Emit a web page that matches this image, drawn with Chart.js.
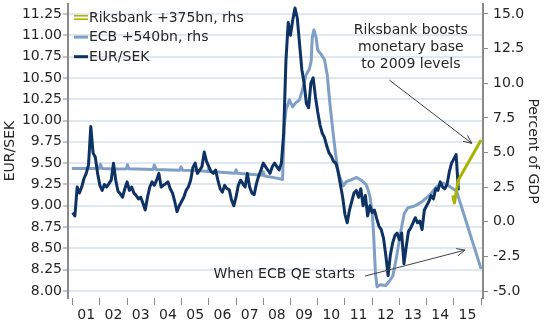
<!DOCTYPE html>
<html>
<head>
<meta charset="utf-8">
<script src="https://cdn.jsdelivr.net/npm/chart.js@4"></script>
<style>
  html, body { margin: 0; padding: 0; background: #fff; }
</style>
</head>
<body>
<canvas id="c" width="547" height="324"></canvas>
<script>
// EUR/SEK, month by month from Jan 2001 (left axis)
const eurSekStart = 2001;
const eurSek = [
  8.92, 8.88, 9.22, 9.15, 9.22, 9.32, 9.38, 9.48, 9.93, 9.62, 9.57, 9.38,   // 2001
  9.24, 9.18, 9.25, 9.22, 9.26, 9.30, 9.50, 9.30, 9.17, 9.14, 9.10, 9.20,   // 2002
  9.28, 9.18, 9.22, 9.15, 9.12, 9.08, 9.10, 9.03, 8.95, 9.10, 9.22, 9.28,   // 2003
  9.24, 9.30, 9.38, 9.22, 9.24, 9.26, 9.28, 9.20, 9.15, 9.05, 8.93, 9.00,   // 2004
  9.05, 9.10, 9.18, 9.22, 9.30, 9.45, 9.50, 9.38, 9.42, 9.46, 9.63, 9.52,   // 2005
  9.46, 9.40, 9.38, 9.42, 9.30, 9.20, 9.16, 9.24, 9.20, 9.19, 9.07, 9.00,   // 2006
  9.10, 9.24, 9.30, 9.26, 9.22, 9.38, 9.22, 9.15, 9.13, 9.26, 9.35, 9.42,   // 2007
  9.50, 9.46, 9.42, 9.38, 9.46, 9.50, 9.46, 9.42, 9.50, 9.85, 10.70, 11.15, // 2008
  11.00, 11.18, 11.32, 11.20, 10.90, 10.60, 10.44, 10.20, 10.15, 10.44, 10.50, 10.28, // 2009
  10.10, 9.95, 9.85, 9.80, 9.70, 9.62, 9.58, 9.52, 9.50, 9.40, 9.25, 9.10,  // 2010
  8.90, 8.80, 8.95, 9.05, 9.15, 9.18, 9.10, 9.20, 9.00, 9.12, 8.88, 9.00,   // 2011
  8.92, 8.95, 8.85, 8.76, 8.72, 8.62, 8.42, 8.18, 8.42, 8.56, 8.65, 8.68,   // 2012
  8.60, 8.68, 8.32, 8.52, 8.70, 8.74, 8.80, 8.86, 8.80, 8.82, 8.72, 8.95,   // 2013
  9.00, 9.05, 9.12, 9.08, 9.20, 9.18, 9.28, 9.22, 9.20, 9.25, 9.40, 9.50,   // 2014
  9.55, 9.60, 9.18                                                          // 2015
];

// ECB, percent of GDP (right axis), the last point is the +540bn projection
const ecbYears = [
  2000.97, 2001.5, 2001.97, 2002.02, 2002.08, 2002.5, 2002.98, 2003.01, 2003.07,
  2003.96, 2004.0, 2004.06, 2004.94, 2004.98, 2005.04, 2005.5, 2005.97, 2006.0,
  2006.05, 2006.97, 2007.0, 2007.05, 2007.97, 2008.0, 2008.05, 2008.5, 2008.71,
  2008.77, 2008.84, 2008.96, 2009.08, 2009.2, 2009.33, 2009.45, 2009.57, 2009.69,
  2009.76, 2009.8, 2009.86, 2009.94, 2010.0, 2010.12, 2010.25, 2010.35, 2010.45,
  2010.56, 2010.65, 2010.75, 2010.85, 2010.95, 2011.05, 2011.2, 2011.43, 2011.6,
  2011.77, 2011.85, 2011.92, 2012.0, 2012.05, 2012.12, 2012.18, 2012.3, 2012.5,
  2012.63, 2012.76, 2012.88, 2013.0, 2013.06, 2013.18, 2013.31, 2013.5, 2013.67,
  2013.86, 2014.1, 2014.35, 2014.6, 2014.8, 2014.95, 2015.1, 2016.0
];
const ecbValues = [
  3.85, 3.85, 3.85, 4.15, 3.85, 3.8, 3.82, 4.12, 3.82,
  3.78, 4.1, 3.78, 3.72, 3.95, 3.72, 3.7, 3.62, 3.85,
  3.62, 3.5, 3.75, 3.5, 3.35, 3.6, 3.3, 3.15, 3.05,
  6.9, 8.1, 8.8, 8.3, 8.6, 8.8, 9.6, 10.6, 11.0,
  11.6, 13.3, 13.85, 13.3, 12.4, 12.1, 11.7, 10.6, 8.5,
  6.5, 5.0, 3.6, 3.0, 2.6, 2.9, 3.0, 3.2, 3.0,
  2.7, 2.3, 1.8, 0.7, -0.8, -3.7, -4.7, -4.55, -4.6,
  -4.3, -3.9, -2.7, -1.3, -0.6, 0.6, 1.0, 1.1, 1.25,
  1.5, 1.9, 2.5, 2.8, 2.6, 2.4, 2.2, -3.4
];

// Riksbank, percent of GDP (right axis), ending with the +375bn projection
const riksYears = [2014.96, 2015.02, 2015.16, 2016.0];
const riksValues = [1.9, 1.35, 3.0, 5.9];

const yearLabels = ['01', '02', '03', '04', '05', '06', '07', '08', '09', '10', '11', '12', '13', '14', '15'];
const leftTicks = [8.00, 8.25, 8.50, 8.75, 9.00, 9.25, 9.50, 9.75, 10.00, 10.25, 10.50, 10.75, 11.00, 11.25];
const rightTicks = [-5, -2.5, 0, 2.5, 5, 7.5, 10, 12.5, 15];

const NAVY = '#0d3263';
const STEEL = '#7f9fc6';
const OLIVE = '#a9b400';
const TEXT = '#262626';
const AXIS = '#8a8a8a';
const FONT = { family: "'DejaVu Sans', Verdana, sans-serif", size: 14 };

const pairs = (xs, ys) => xs.map((x, i) => ({ x, y: ys[i] }));

// fixed axis boxes so the plot area sits where the original has it
function fixBox(size) {
  return (scale) => {
    if (scale.isHorizontal()) scale.height = size;
    else scale.width = size;
    scale.paddingTop = scale.paddingBottom = scale.paddingLeft = scale.paddingRight = 0;
  };
}

function arrow(ctx, x1, y1, x2, y2) {
  const a = Math.atan2(y2 - y1, x2 - x1), h = 9;
  ctx.beginPath();
  ctx.moveTo(x1, y1);
  ctx.lineTo(x2, y2);
  ctx.moveTo(x2 - h * Math.cos(a - 0.42), y2 - h * Math.sin(a - 0.42));
  ctx.lineTo(x2, y2);
  ctx.lineTo(x2 - h * Math.cos(a + 0.42), y2 - h * Math.sin(a + 0.42));
  ctx.stroke();
}

// annotations, anchored in data units (year, EUR/SEK axis)
const notes = [
  { lines: ['Riksbank boosts', 'monetary base', 'to 2009 levels'], at: [2013.42, 10.86],
    from: [2012.63, 10.475], to: [2015.66, 9.732] },
  { lines: ['When ECB QE starts'], at: [2008.77, 8.198],
    from: [2011.74, 8.175], to: [2015.41, 8.48] }
];

const overlayPlugin = {
  id: 'overlay',
  afterDatasetsDraw(chart) {
    const { ctx, chartArea, scales } = chart;
    const x = scales.x, y = scales.y;
    ctx.save();

    // legend inside the plot, top left
    ctx.font = `${FONT.size}px ${FONT.family}`;
    ctx.textBaseline = 'middle';
    ctx.textAlign = 'left';
    chart.data.datasets.forEach((ds, i) => {
      const ly = chartArea.top + 13.5 + i * 19.6;
      const lx = chartArea.left + 6;
      ctx.strokeStyle = ds.borderColor;
      if (ds.doubleMarker) {
        ctx.lineWidth = 1.6;
        [-1.7, 1.7].forEach(d => {
          ctx.beginPath(); ctx.moveTo(lx, ly + d); ctx.lineTo(lx + 14, ly + d); ctx.stroke();
        });
      } else {
        ctx.lineWidth = 3;
        ctx.beginPath(); ctx.moveTo(lx, ly); ctx.lineTo(lx + 14, ly); ctx.stroke();
      }
      ctx.fillStyle = TEXT;
      ctx.fillText(ds.label, lx + 15, ly + 0.5);
    });

    // text notes with arrows
    ctx.strokeStyle = '#404040';
    ctx.lineWidth = 1;
    ctx.textAlign = 'center';
    notes.forEach(n => {
      const cx = x.getPixelForValue(n.at[0]);
      const cy = y.getPixelForValue(n.at[1]);
      const mid = (n.lines.length - 1) / 2;
      n.lines.forEach((t, k) => ctx.fillText(t, cx, cy + (k - mid) * 17));
      arrow(ctx,
        x.getPixelForValue(n.from[0]), y.getPixelForValue(n.from[1]),
        x.getPixelForValue(n.to[0]), y.getPixelForValue(n.to[1]));
    });
    ctx.restore();
  }
};

new Chart(document.getElementById('c'), {
  type: 'line',
  data: {
    datasets: [
      {
        label: 'Riksbank +375bn, rhs',
        data: pairs(riksYears, riksValues),
        yAxisID: 'y2',
        borderColor: OLIVE,
        borderWidth: 3,
        doubleMarker: true,
        order: 0
      },
      {
        label: 'ECB +540bn, rhs',
        data: pairs(ecbYears, ecbValues),
        yAxisID: 'y2',
        borderColor: STEEL,
        borderWidth: 3,
        order: 2
      },
      {
        label: 'EUR/SEK',
        data: eurSek.map((v, i) => ({ x: eurSekStart + i / 12, y: v })),
        yAxisID: 'y',
        borderColor: NAVY,
        borderWidth: 3,
        order: 1
      }
    ]
  },
  options: {
    responsive: false,
    animation: false,
    events: [],
    parsing: false,
    layout: { padding: { top: 4, left: 0, right: 0, bottom: 0 } },
    elements: {
      point: { radius: 0 },
      line: { tension: 0, fill: false, borderJoinStyle: 'round' }
    },
    plugins: {
      legend: { display: false },
      tooltip: { enabled: false }
    },
    scales: {
      x: {
        type: 'linear',
        min: 2000.83,
        max: 2016.07,
        afterFit: fixBox(26),
        afterBuildTicks: (scale) => {
          const t = [];
          for (let yr = 2001; yr <= 2016; yr++) {
            t.push({ value: yr });
            if (yr < 2016) t.push({ value: yr + 0.5 });
          }
          scale.ticks = t;
        },
        border: { display: false },
        grid: {
          drawOnChartArea: false,
          tickLength: 7,
          tickColor: (c) => (c.tick && c.tick.value % 1 === 0 ? AXIS : 'rgba(0,0,0,0)')
        },
        ticks: {
          autoSkip: false,
          maxRotation: 0,
          padding: 2,
          color: TEXT,
          font: FONT,
          callback: (v) => (v % 1 === 0.5 ? yearLabels[Math.floor(v) - 2001] : '')
        }
      },
      y: {
        position: 'left',
        min: 7.918,
        max: 11.367,
        afterFit: fixBox(68),
        afterBuildTicks: (scale) => { scale.ticks = leftTicks.map(v => ({ value: v })); },
        border: { display: true, color: AXIS, width: 2 },
        grid: { color: '#e1e7ee', lineWidth: 2, tickLength: 5, tickColor: AXIS, tickWidth: 1 },
        ticks: { padding: 1, color: TEXT, font: FONT, callback: (v) => v.toFixed(2) },
        title: { display: true, text: 'EUR/SEK', color: TEXT, font: FONT, padding: { top: 2, bottom: 0 } }
      },
      y2: {
        position: 'right',
        min: -5.505,
        max: 15.72,
        afterFit: fixBox(64),
        afterBuildTicks: (scale) => { scale.ticks = rightTicks.map(v => ({ value: v })); },
        border: { display: true, color: AXIS, width: 2 },
        grid: { drawOnChartArea: false, tickLength: 5, tickColor: AXIS, tickWidth: 1 },
        ticks: { padding: 5, color: TEXT, font: FONT, callback: (v) => v.toFixed(1) },
        title: { display: true, text: 'Percent of GDP', color: TEXT, font: FONT, padding: { top: 6, bottom: 0 } }
      }
    }
  },
  plugins: [overlayPlugin]
});
</script>
</body>
</html>
